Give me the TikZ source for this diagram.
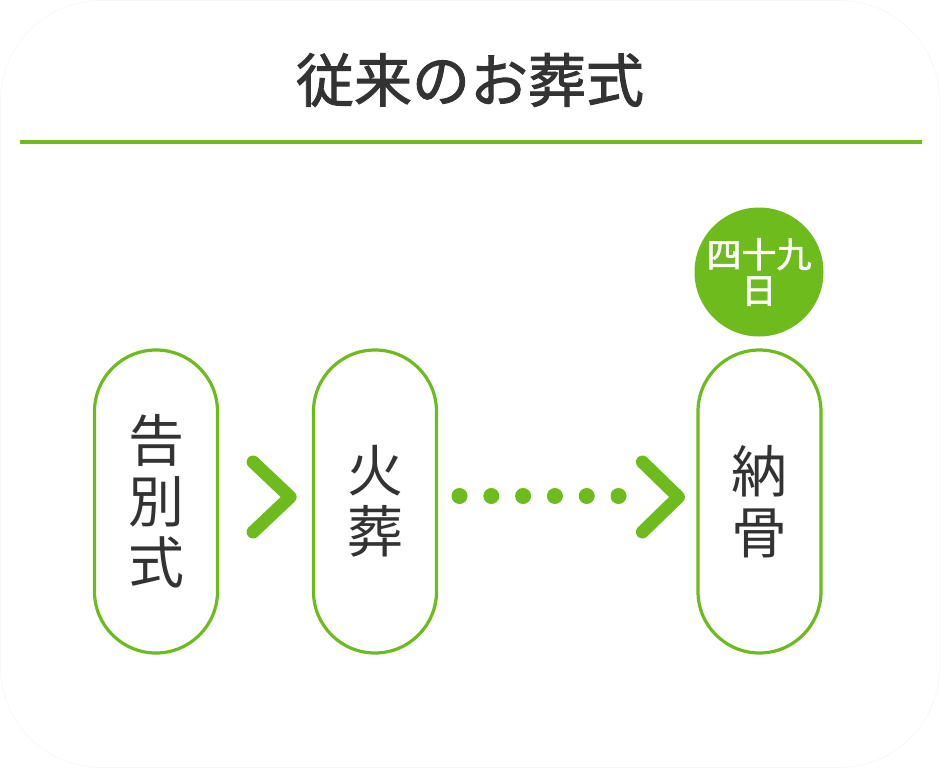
\documentclass[tikz,border=0pt]{standalone}
\usepackage{fontspec}
\setmainfont{Noto Sans CJK JP}
\newfontfamily\headfont[FakeBold=1.6]{Noto Sans CJK JP}
\usetikzlibrary{positioning,calc}
\definecolor{leafgreen}{RGB}{110,187,30}
\definecolor{inkgray}{RGB}{51,51,51}
\begin{document}
\begin{tikzpicture}[x=1pt,y=-1pt,
  stage/.style={draw=leafgreen,line width=3.2pt,rounded corners=61.5pt,
    minimum width=123pt,minimum height=303pt,inner sep=0pt,
    text=inkgray,font=\fontsize{56}{61}\selectfont,align=center},
  chevron/.style={leafgreen,line width=13pt,line cap=round,line join=round}]
  \useasboundingbox (0,0) rectangle (940,768);
  % faint card behind everything
  \draw[black!3,line width=0.8pt,rounded corners=100pt] (0.5,0.5) rectangle (939.5,767.5);
  % heading and rule
  \node[font=\headfont\fontsize{58}{58}\selectfont,text=inkgray] (title) at (470,80) {従来のお葬式};
  \draw[leafgreen,line width=4pt] (20,142) -- (922,142);
  % three stages
  \node[stage] (kokubetsu) at (156,501.5) {告\\別\\式};
  \node[stage] (kaso) at (375,501.5) {火\\葬};
  \node[stage] (nokotsu) at (759.5,501.5) {納\\骨};
  \node[circle,fill=leafgreen,minimum size=129pt,inner sep=0pt,text=white,
    font=\headfont\fontsize{35}{36}\selectfont,align=center] (shijuku) at (759,272) {四十九\\日};
  % chevrons and dotted wait
  \draw[chevron] ($(kokubetsu.east)+(34,-39.5)$) -- ++(37,35) -- ++(-37,35);
  \foreach \i in {0,...,5}
    \fill[leafgreen] ($(kaso.east)+(21.4+31.8*\i,-5.5)$) circle (8pt);
  \draw[chevron] ($(nokotsu.west)+(-54,-39.5)$) -- ++(36,35) -- ++(-36,35);
\end{tikzpicture}
\end{document}
